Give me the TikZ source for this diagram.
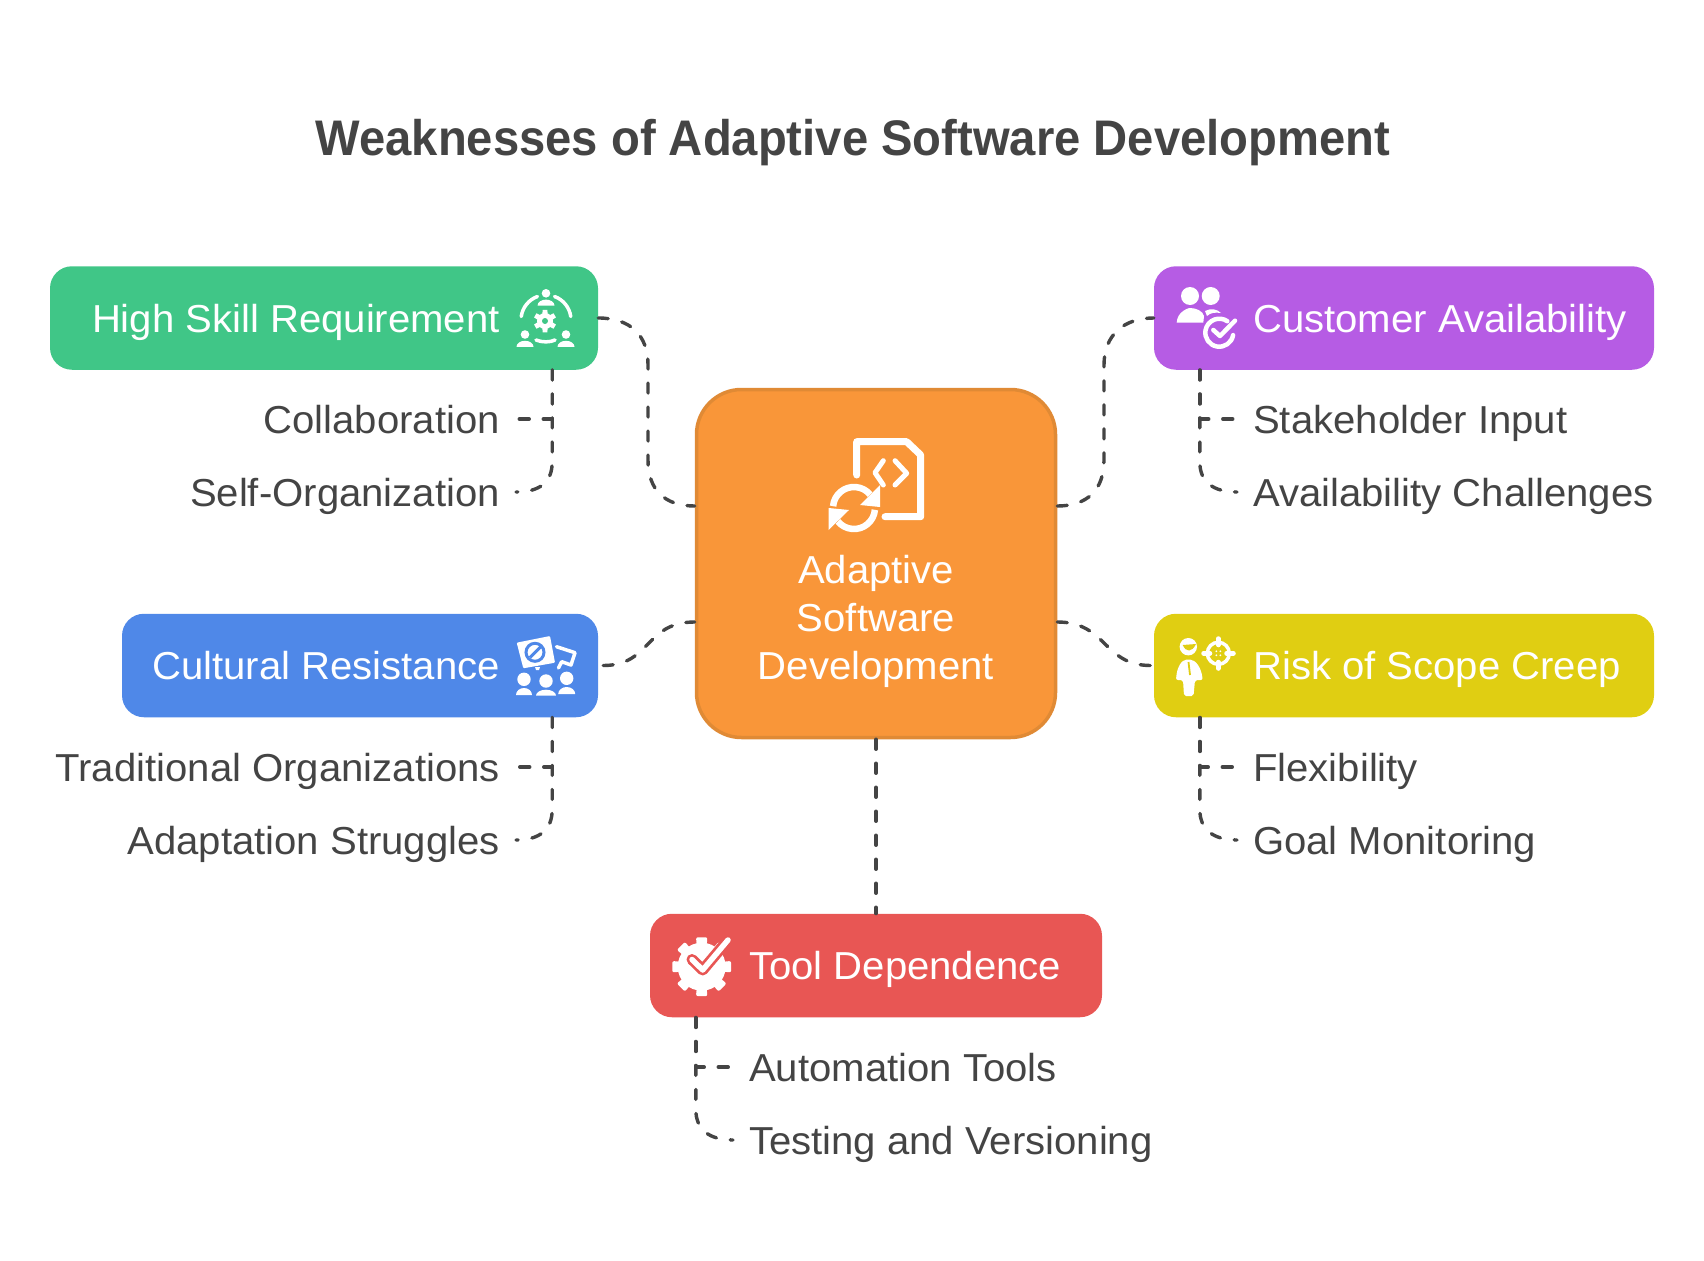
\documentclass[tikz,border=0pt]{standalone}
\usepackage{fontspec}
\setmainfont[FakeStretch=1.028]{Liberation Sans}
\newfontfamily\headingfont[FakeStretch=0.944]{Liberation Sans}
\definecolor{inkgray}{HTML}{444444}
\definecolor{skillgreen}{HTML}{40C687}
\definecolor{resistblue}{HTML}{4F88E8}
\definecolor{custpurple}{HTML}{B65CE4}
\definecolor{scopeyellow}{HTML}{E0CE12}
\definecolor{toolred}{HTML}{E85654}
\definecolor{coreorange}{HTML}{F99639}
\definecolor{coreedge}{HTML}{E08A35}
\tikzset{
    catbox/.style={rectangle, rounded corners=22pt, inner sep=0pt, minimum height=103.5pt},
    boxtext/.style={text=white, inner sep=0pt, text height=35pt, text depth=7pt, font=\fontsize{39}{48}\selectfont},
    leaftext/.style={boxtext, text=inkgray},
    dashline/.style={draw=inkgray, line width=3.4pt, line cap=round, dash pattern=on 10pt off 14pt},
    glyphline/.style={draw=white, line cap=round, line join=round}
}
\newcommand{\persongl}[5]{
    \fill[white] (#1,#2) circle[radius=#3];
    \fill[white] (#1-#4,#2+#3+#5+2) arc[start angle=180, end angle=360, x radius=#4, y radius=#5] -- cycle;
}
\begin{document}
\begin{tikzpicture}[x=1pt, y=-1pt]
    \useasboundingbox (0,0) rectangle (1704,1260);
    \node[inner sep=0pt, text=inkgray, anchor=base, font=\fontsize{50}{60}\selectfont\headingfont\bfseries] (heading) at (853,156) {Weaknesses of Adaptive Software Development};

    \node[catbox, fill=skillgreen, minimum width=548pt] (skill) at (324,318) {};
    \node[catbox, fill=resistblue, minimum width=476pt] (resist) at (360,665.5) {};
    \node[catbox, fill=custpurple, minimum width=500pt] (cust) at (1404,318) {};
    \node[catbox, fill=scopeyellow, minimum width=500pt] (scope) at (1404,665.5) {};
    \node[catbox, fill=toolred, minimum width=452pt] (tool) at (876,965.5) {};
    \node[rectangle, rounded corners=45pt, fill=coreorange, draw=coreedge, line width=3.5pt, minimum width=359pt, minimum height=348pt, inner sep=0pt] (core) at (876,563.5) {};
    \node[inner sep=0pt, text=white, align=center, font=\fontsize{39}{48}\selectfont] (coretext) at (876,621) {Adaptive\\Software\\Development};

    \node[boxtext, anchor=east] (skilltext) at (500,318) {High Skill Requirement};
    \node[boxtext, anchor=east] (resisttext) at (500,665.5) {Cultural Resistance};
    \node[boxtext, anchor=west] (custtext) at (1253,318) {Customer Availability};
    \node[boxtext, anchor=west] (scopetext) at (1253,665.5) {Risk of Scope Creep};
    \node[boxtext, anchor=west] (tooltext) at (749,965.5) {Tool Dependence};

    \node[leaftext, anchor=east] (collab) at (500,419) {Collaboration};
    \node[leaftext, anchor=east] (selforg) at (500,492) {Self-Organization};
    \node[leaftext, anchor=east] (tradorg) at (500,767) {Traditional Organizations};
    \node[leaftext, anchor=east] (adapt) at (500,840) {Adaptation Struggles};
    \node[leaftext, anchor=west] (stake) at (1253,419) {Stakeholder Input};
    \node[leaftext, anchor=west] (avail) at (1253,492) {Availability Challenges};
    \node[leaftext, anchor=west] (flex) at (1253,767) {Flexibility};
    \node[leaftext, anchor=west] (goal) at (1253,840) {Goal Monitoring};
    \node[leaftext, anchor=west] (auto) at (749,1067) {Automation Tools};
    \node[leaftext, anchor=west] (testing) at (749,1140) {Testing and Versioning};

    \coordinate (coreWup) at ([yshift=57.5pt]core.west);
    \coordinate (coreWdown) at ([yshift=-58.5pt]core.west);
    \coordinate (coreEup) at ([yshift=57.5pt]core.east);
    \coordinate (coreEdown) at ([yshift=-58.5pt]core.east);

    \draw[dashline] (skill.east) .. controls +(32,0) and +(0,-30) .. (648,365) -- (648,460) .. controls +(0,30) and +(-30,0) .. (coreWup);
    \draw[dashline] (coreEup) .. controls +(30,0) and +(0,30) .. (1104,460) -- (1104,365) .. controls +(0,-30) and +(-30,0) .. (cust.west);
    \draw[dashline] ([xshift=5pt]resist.east) .. controls +(48,0) and +(-50,0) .. (coreWdown);
    \draw[dashline] (coreEdown) .. controls +(50,0) and +(-48,0) .. ([xshift=-3pt]scope.west);
    \draw[dashline] (core.south) -- (tool.north);

    \draw[dashline] ([xshift=-46pt]skill.south east) |- ([xshift=16pt]collab.east);
    \draw[dashline] ([xshift=-46pt]skill.south east) -- ++(0,92) .. controls +(0,20) and +(24,0) .. ([xshift=16pt]selforg.east);
    \draw[dashline] ([xshift=-46pt]resist.south east) |- ([xshift=16pt]tradorg.east);
    \draw[dashline] ([xshift=-46pt]resist.south east) -- ++(0,92) .. controls +(0,20) and +(24,0) .. ([xshift=16pt]adapt.east);
    \draw[dashline] ([xshift=46pt]cust.south west) |- ([xshift=-16pt]stake.west);
    \draw[dashline] ([xshift=46pt]cust.south west) -- ++(0,92) .. controls +(0,20) and +(-24,0) .. ([xshift=-16pt]avail.west);
    \draw[dashline] ([xshift=46pt]scope.south west) |- ([xshift=-16pt]flex.west);
    \draw[dashline] ([xshift=46pt]scope.south west) -- ++(0,92) .. controls +(0,20) and +(-24,0) .. ([xshift=-16pt]goal.west);
    \draw[dashline] ([xshift=46pt]tool.south west) |- ([xshift=-16pt]auto.west);
    \draw[dashline] ([xshift=46pt]tool.south west) -- ++(0,92) .. controls +(0,20) and +(-24,0) .. ([xshift=-16pt]testing.west);

    % core icon
    \draw[glyphline, line width=7pt, line join=round] (856.7,475) -- (856.7,441.7) -- (906.7,441.7) -- (920.7,455) -- (920.7,516.7) -- (885,516.7);
    \draw[glyphline, line width=5pt] (883.3,460.7) -- (875,472.7) -- (883.3,485);
    \draw[glyphline, line width=5pt] (895,460.7) -- (906.7,473.3) -- (895,485);
    \draw[glyphline, line width=6.5pt, line cap=butt] (854,508)+(185:21) arc[start angle=185, end angle=320, radius=21];
    \draw[glyphline, line width=6.5pt, line cap=butt] (854,508)+(5:21) arc[start angle=5, end angle=140, radius=21];
    \fill[white] (880,485) -- (880,507) -- (860,505) -- cycle;
    \fill[white] (828.5,508) -- (828.5,530) -- (849,510) -- cycle;

    % skill icon
    \persongl{546}{293.3}{4.3}{8.5}{6}
    \persongl{525}{334.5}{4.3}{8.5}{6}
    \persongl{566}{334.5}{4.3}{8.5}{6}
    \draw[glyphline, line width=3.5pt] (546,320)+(188:25) arc[start angle=188, end angle=250, radius=25];
    \draw[glyphline, line width=3.5pt] (546,320)+(290:25) arc[start angle=290, end angle=352, radius=25];
    \draw[glyphline, line width=3.5pt] (536,340) .. controls (542,342.5) and (550,342.5) .. (555,340);
    \foreach \a in {30,90,...,330}
        \fill[white] (545,321)+(\a-22:7) -- +(\a-12:11.5) -- +(\a+12:11.5) -- +(\a+22:7) -- cycle;
    \fill[white] (545,321) circle[radius=8];
    \fill[skillgreen] (545,321) circle[radius=3];

    % customer icon
    \fill[white] (1190,296) circle[radius=9];
    \fill[white] (1210.7,296) circle[radius=9];
    \fill[white] (1176.7,322.7) .. controls (1177,312) and (1188,308) .. (1190,308) .. controls (1196,308) and (1203,311) .. (1204,316) -- (1203.3,322.7) -- cycle;
    \fill[white] (1205,311) .. controls (1211,308) and (1217,309) .. (1221,313) .. controls (1215,312) and (1210,313) .. (1207,316) -- cycle;
    \draw[glyphline, line width=4.5pt] (1219.3,332.7)+(10:14) arc[start angle=10, end angle=305, radius=14];
    \draw[glyphline, line width=4.5pt] (1213.3,330) -- (1220,336) -- (1235,320.7);

    % resistance icon
    \fill[white, rounded corners=1pt] (516.7,642.7) -- (550,636) -- (555,662.7) -- (523.3,668.3) -- cycle;
    \fill[white] (535,667) -- (540,667) -- (539,670) -- (536,670) -- cycle;
    \draw[resistblue, line width=3pt] (535,652.3) circle[radius=9];
    \draw[resistblue, line width=3pt] (530,657.5) -- (540.7,646.7);
    \draw[glyphline, line width=3.5pt] (556.5,646.7) -- (575,652.7) -- (571,665) -- (561.7,661.7) -- (558.5,668);
    \persongl{524}{679.3}{6.7}{8}{7}
    \persongl{546}{681}{6.7}{10}{6}
    \persongl{566.7}{678.3}{6.7}{8.5}{7}

    % scope icon
    \fill[white] (1188.3,646.7) circle[radius=8.7];
    \fill[scopeyellow] (1182.7,645) .. controls (1186,652.5) and (1192,652.5) .. (1196,644) -- cycle;
    \fill[white, rounded corners=2pt] (1176,680) .. controls (1177,666) and (1182,660) .. (1188.3,659.5) .. controls (1195,660) and (1201,666) .. (1202.7,680) -- (1195,680) -- (1193.5,696) -- (1184,696) -- (1183,680) -- cycle;
    \draw[scopeyellow, line width=1.8pt] (1188.5,662) -- (1190,675);
    \draw[white, line width=3.5pt] (1218.3,653.3) circle[radius=11];
    \draw[glyphline, line width=4.5pt] (1218.3,638.5) -- (1218.3,645);
    \draw[glyphline, line width=4.5pt] (1218.3,662) -- (1218.3,668.5);
    \draw[glyphline, line width=4.5pt] (1203.5,653.3) -- (1210,653.3);
    \draw[glyphline, line width=4.5pt] (1226.5,653.3) -- (1233.5,653.3);
    \foreach \dx/\dy in {-2/-2,2/-2,-2/2,2/2}
        \fill[white] (1218.3+\dx,653.3+\dy) circle[radius=1];

    % tool icon
    \foreach \a in {0,45,...,315}
        \fill[white, rounded corners=2pt] (701.7,966.7)+(\a-13:22) -- +(\a-11:30) -- +(\a+11:30) -- +(\a+13:22) -- cycle;
    \fill[white] (701.7,966.7) circle[radius=24];
    \draw[toolred, line width=11pt, line cap=round, line join=round] (692,959.5) -- (702.7,970) -- (728,940);
    \draw[glyphline, line width=5.5pt] (692,959.5) -- (702.7,970) -- (728,940);
\end{tikzpicture}
\end{document}
